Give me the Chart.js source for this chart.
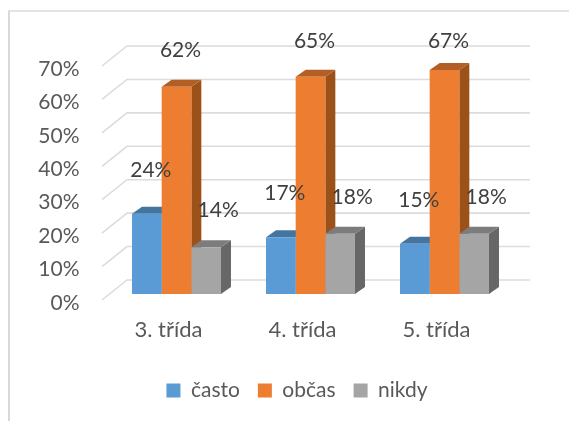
<!DOCTYPE html>
<html lang="cs"><head><meta charset="utf-8">
<style>
html,body{margin:0;padding:0;background:#fff;width:569px;height:421px;overflow:hidden}
#frame{position:absolute;left:8px;top:10px;right:0;bottom:0;border-left:2px solid #d9d9d9;border-top:2px solid #e4e4e4}
canvas{position:absolute;left:0;top:0}
</style>
<script src="https://cdn.jsdelivr.net/npm/chart.js@4/dist/chart.umd.min.js"></script>
</head><body><div id="frame"></div><canvas id="c" width="569" height="421"></canvas>
<script>
const categories = ['3. třída','4. třída','5. třída'];
const seriesNames = ['často','občas','nikdy'];
const casto = [24,17,15];
const obcas = [62,65,67];
const nikdy = [14,18,18];
const yTicks = [0,10,20,30,40,50,60,70];
const frontColors = ['#5b9bd5','#ed7d31','#a5a5a5'];
const topColors = ['#44759f','#b25e25','#7c7c7c'];
const sideColors = ['#376089','#9c5119','#676767'];
const textColor = '#595959';
const fontFamily = 'Lato, "Open Sans", sans-serif';
const DEPTH = {x:10, y:-7};
const labelShift = [{x:4,y:-44},{x:4,y:-37},{x:12,y:-37}];
const LABEL_MIN_Y = 41;

const solid3d = {
  id:'solid3d',
  afterLayout(chart){ chart.scales.y.left = 0; },
  beforeDatasetsDraw(chart){
    const {ctx,chartArea:a,scales:{y}} = chart;
    ctx.save();
    ctx.strokeStyle='#dcdcdc'; ctx.lineWidth=1.6;
    yTicks.forEach(v=>{
      const p=y.getPixelForValue(v);
      ctx.beginPath();
      ctx.moveTo(a.left-7.5,p+6);
      ctx.lineTo(a.left+17.5,p-14);
      ctx.lineTo(a.right+18.5,p-14);
      ctx.stroke();
    });
    chart.data.datasets.forEach((d,i)=>{
      chart.getDatasetMeta(i).data.forEach(bar=>{
        const l=bar.x-bar.width/2,r=bar.x+bar.width/2,t=bar.y,b=bar.base;
        ctx.fillStyle=sideColors[i];
        ctx.beginPath();ctx.moveTo(r,t);ctx.lineTo(r+DEPTH.x,t+DEPTH.y);ctx.lineTo(r+DEPTH.x,b+DEPTH.y);ctx.lineTo(r,b);ctx.closePath();ctx.fill();
        ctx.fillStyle=topColors[i];
        ctx.beginPath();ctx.moveTo(l,t);ctx.lineTo(l+DEPTH.x,t+DEPTH.y);ctx.lineTo(r+DEPTH.x,t+DEPTH.y);ctx.lineTo(r,t);ctx.closePath();ctx.fill();
      });
    });
    ctx.restore();
  },
  afterDatasetsDraw(chart){
    const {ctx}=chart;
    ctx.save();
    ctx.font='21px '+fontFamily;ctx.fillStyle='#404040';ctx.textAlign='center';ctx.textBaseline='middle';
    chart.data.datasets.forEach((d,i)=>{
      chart.getDatasetMeta(i).data.forEach((bar,j)=>{
        ctx.fillText(d.data[j]+'%',bar.x+labelShift[i].x,Math.max(bar.y+labelShift[i].y,LABEL_MIN_Y));
      });
    });
    ctx.restore();
  }
};

new Chart(document.getElementById('c'),{
  type:'bar',
  data:{labels:categories,datasets:[casto,obcas,nikdy].map((data,i)=>({
    label:seriesNames[i],data,backgroundColor:frontColors[i],borderWidth:0,
    categoryPercentage:0.664,barPercentage:1
  }))},
  options:{
    responsive:false,animation:false,
    layout:{padding:{left:82.5,right:57.5,top:60,bottom:10}},
    plugins:{
      tooltip:{enabled:false},
      legend:{position:'bottom',labels:{boxWidth:14,boxHeight:14,padding:18,color:textColor,font:{family:fontFamily,size:21}}}
    },
    scales:{
      x:{grid:{display:false},border:{display:false},
        ticks:{color:textColor,font:{family:fontFamily,size:22},labelOffset:-8,padding:15,maxRotation:0},
        afterFit(s){s.height=68}},
      y:{min:0,max:70,grid:{display:false},border:{display:false},
        afterFit(s){s.width=27},
        afterBuildTicks(s){s.ticks=yTicks.map(value=>({value}))},
        ticks:{color:textColor,font:{family:fontFamily,size:21},padding:22,labelOffset:9,callback:v=>v+'%'}}
    }
  },
  plugins:[solid3d]
});
</script></body></html>
